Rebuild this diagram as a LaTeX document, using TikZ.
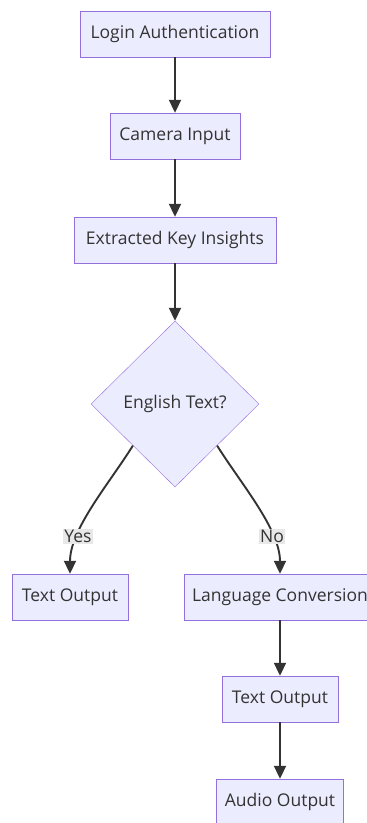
\documentclass[tikz,border=0pt]{standalone}
\usepackage{fontspec}
\setmainfont{Open Sans}
\usetikzlibrary{positioning,shapes.geometric,arrows.meta}
\definecolor{boxfill}{HTML}{ECECFF}
\definecolor{boxline}{HTML}{9370DB}
\definecolor{ink}{HTML}{333333}
\definecolor{lblbg}{HTML}{E8E8E8}
\tikzset{block/.style={draw=boxline, fill=boxfill, text=ink, minimum height=46pt, inner xsep=0pt, align=center, font=\fontsize{17.5}{20}\selectfont},
  decision/.style={diamond, draw=boxline, fill=boxfill, text=ink, inner sep=0pt, minimum width=168pt, minimum height=166pt, font=\fontsize{17.5}{20}\selectfont},
  line/.style={-{Triangle[length=13pt,width=12pt]}, line width=1.9pt, draw=ink},
  answer/.style={fill=lblbg, text=ink, inner sep=1pt, font=\fontsize{17.5}{20}\selectfont}}

\begin{document}
\begin{tikzpicture}[x=1pt,y=1pt]
    \useasboundingbox (0,0) rectangle (367,-823);
    \node[block, minimum width=190pt] (login) at (175,-34)  {Login Authentication};
    \node[block, minimum width=130pt] (cam)   at (175,-136) {Camera Input};
    \node[block, minimum width=202pt] (keys)  at (175,-240) {Extracted Key Insights};
    \node[decision]                   (eng)   at (175,-404) {English Text?};
    \node[block, minimum width=116pt] (txta)  at (70,-597)  {Text Output};
    \node[block, minimum width=192pt] (lang)  at (280,-597) {Language Conversion};
    \node[block, minimum width=116pt] (txtb)  at (280,-699) {Text Output};
    \node[block, minimum width=127pt] (audio) at (280,-802) {Audio Output};

    \draw[line] (login) -- (cam);
    \draw[line] (cam)   -- (keys);
    \draw[line] (keys)  -- (eng);
    \draw[line] (eng.south west) to[out=238,in=90,looseness=0.8] node[answer, pos=0.72] {Yes} (txta.north);
    \draw[line] (eng.south east) to[out=-58,in=90,looseness=0.8] node[answer, pos=0.72] {No} (lang.north);
    \draw[line] (lang)  -- (txtb);
    \draw[line] (txtb)  -- (audio);
\end{tikzpicture}
\end{document}
